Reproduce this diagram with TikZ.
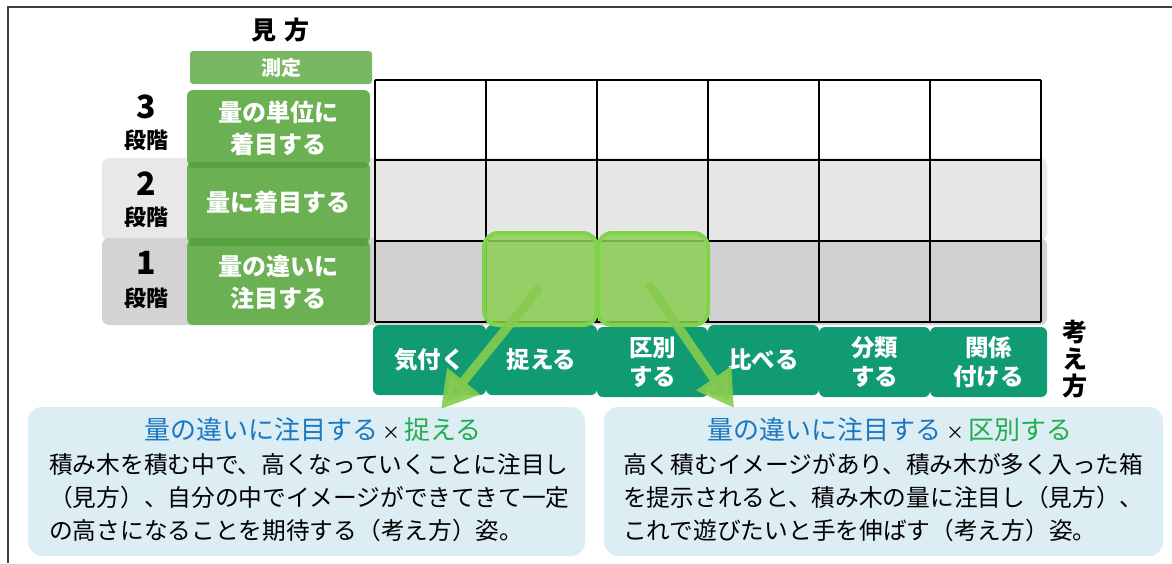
\documentclass[tikz,border=0pt]{standalone}
\usepackage{fontspec}
\setmainfont{Noto Sans CJK JP}
\usetikzlibrary{arrows.meta}
\definecolor{lvgreen}{HTML}{6BB052}
\definecolor{lvdark}{HTML}{56A33F}
\definecolor{topgreen}{HTML}{78B862}
\definecolor{teal}{HTML}{119B73}
\definecolor{band2}{HTML}{E8E8E8}
\definecolor{band1}{HTML}{D3D3D3}
\definecolor{cell2}{HTML}{E6E6E6}
\definecolor{cell1}{HTML}{D0D0D0}
\definecolor{hl}{HTML}{8ECF55}
\definecolor{arrowgreen}{HTML}{86CB4F}
\definecolor{infobg}{HTML}{DCEDF3}
\definecolor{ttlblue}{HTML}{1A78C2}
\definecolor{ttlgreen}{HTML}{20AE4F}
\tikzset{
  lvbox/.style={fill=lvgreen, rounded corners=6pt, text=white, align=center, inner sep=0pt,
     font=\fontsize{24}{32}\selectfont\bfseries, minimum width=183pt},
  tealbox/.style={fill=teal, rounded corners=6pt, text=white, align=center, inner sep=0pt,
     font=\fontsize{23.5}{29}\selectfont\bfseries, minimum height=70pt},
  band/.style={rounded corners=7pt, inner sep=0pt, minimum width=945pt},
  lvnum/.style={font=\fontsize{32}{32}\selectfont\bfseries, inner sep=0pt},
  lvword/.style={font=\fontsize{22}{22}\selectfont\bfseries, inner sep=0pt},
  hlbox/.style={fill=hl, fill opacity=0.85, draw=hl!90!green, line width=4pt, rounded corners=14pt,
     minimum height=92pt, inner sep=0pt},
  bigarrow/.style={draw=arrowgreen, line width=9pt, opacity=0.9,
     -{Triangle[width=40pt,length=36pt]}},
  infobox/.style={fill=infobg, rounded corners=14pt, minimum height=149pt, inner sep=0pt},
  ttl/.style={font=\fontsize{26}{28}\selectfont, inner sep=0pt},
  body/.style={font=\fontsize{23.7}{33}\selectfont, align=left, inner sep=0pt, anchor=north west},
  gridline/.style={line width=1.8pt, black},
}
\begin{document}
\begin{tikzpicture}[x=1pt,y=-1pt]
\useasboundingbox (0,0) rectangle (1172,563);
% outer frame
\draw[line width=1.6pt, black!75] (8,563) -- (8,7) -- (1172,7);

% gray bands
\node[band, fill=band2, minimum height=82pt] (band2) at (574.5,199) {};
\node[band, fill=band1, minimum height=87pt] (band1) at (574.5,281.5) {};

% grid
\fill[cell2] (375,160) rectangle (1041,241);
\fill[cell1] (375,241) rectangle (1041,322);
\foreach \gx in {375,486,597,708,819,930,1041} \draw[gridline] (\gx,80) -- (\gx,322);
\foreach \gy in {80,160,241,322} \draw[gridline] (375,\gy) -- (1041,\gy);

% title
\node[font=\fontsize{25}{25}\selectfont\bfseries, inner sep=0pt] (mikata) at (280,30) {見\hspace{8pt}方};
\node[lvbox, fill=topgreen, minimum width=182pt, minimum height=33pt, rounded corners=3pt,
      font=\fontsize{20}{20}\selectfont\bfseries] (sokutei) at (281,67.5) {測定};

% level boxes
\node[lvbox, minimum height=76pt] (lv3) at (278.5,128) {量の単位に\\着目する};
\node[lvbox, minimum height=81pt] (lv2) at (278.5,202.5) {量に着目する};
\node[lvbox, minimum height=85pt] (lv1) at (278.5,282.5) {量の違いに\\注目する};
\fill[lvdark, rounded corners=3pt] (189,162) rectangle (368,168);
\fill[lvdark, rounded corners=3pt] (189,238) rectangle (368,246);

% level labels
\node[lvnum] (n3) at (146,107) {3};
\node[lvword] (w3) at (146,140) {段階};
\node[lvnum] (n2) at (146,184) {2};
\node[lvword] (w2) at (146,217) {段階};
\node[lvnum] (n1) at (146,263) {1};
\node[lvword] (w1) at (146,298) {段階};

% teal boxes
\node[tealbox, minimum width=113pt] (k1) at (429.5,360) {気付く};
\node[tealbox, minimum width=111pt] (k2) at (541.5,360) {捉える};
\node[tealbox, minimum width=111pt] (k3) at (652.5,362) {区別\\する};
\node[tealbox, minimum width=111pt] (k4) at (763.5,360) {比べる};
\node[tealbox, minimum width=111pt] (k5) at (874.5,362) {分類\\する};
\node[tealbox, minimum width=117pt] (k6) at (988.5,362) {関係\\付ける};

% kangaekata vertical
\node[font=\fontsize{25}{27}\selectfont\bfseries, align=center, inner sep=0pt] (kangae) at (1075,359) {考\\え\\方};

% highlights
\node[hlbox, minimum width=113pt] (h1) at (540.5,279) {};
\node[hlbox, minimum width=110pt] (h2) at (653,279) {};

% info boxes
\node[infobox, minimum width=557pt] (ib1) at (306.5,481.5) {};
\node[infobox, minimum width=559pt] (ib2) at (883.5,481.5) {};

% arrows
\coordinate (a1s) at (540,287);
\coordinate (a1e) at (441,409);
\coordinate (a2s) at (648,283);
\coordinate (a2e) at (734,408);
\draw[bigarrow] (a1s) -- (a1e);
\draw[bigarrow] (a2s) -- (a2e);

% info texts
\node[ttl] (t1) at (313,430) {\textcolor{ttlblue}{量の違いに注目する}\,{\fontsize{18}{18}\selectfont ×}\,\textcolor{ttlgreen}{捉える}};
\node[body] (b1) at (49,453) {積み木を積む中で、高くなっていくことに注目し\\（見方）、自分の中でイメージができてきて一定\\の高さになることを期待する（考え方）姿。};

\node[ttl] (t2) at (890,430) {\textcolor{ttlblue}{量の違いに注目する}\,{\fontsize{18}{18}\selectfont ×}\,\textcolor{ttlgreen}{区別する}};
\node[body] (b2) at (623,453) {高く積むイメージがあり、積み木が多く入った箱\\を提示されると、積み木の量に注目し（見方）、\\これで遊びたいと手を伸ばす（考え方）姿。};
\end{tikzpicture}
\end{document}
